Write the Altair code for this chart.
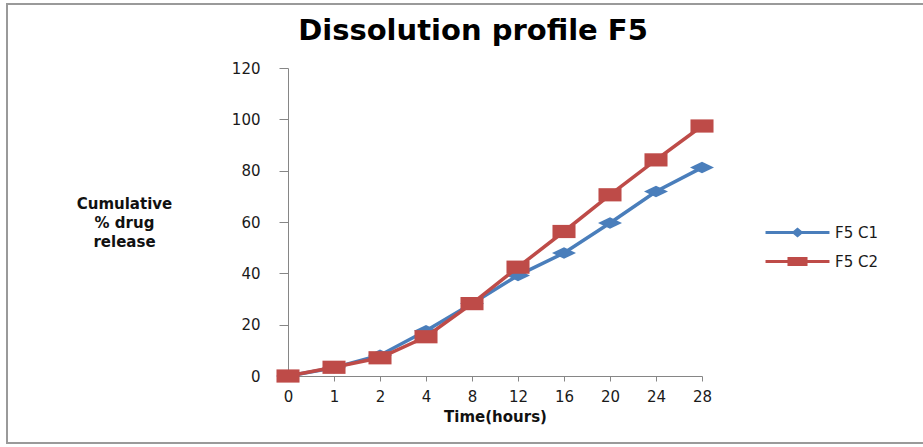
import altair as alt
import pandas as pd

# Sampling times (hours) and cumulative % drug release for the two batches
time_labels = ["0", "1", "2", "4", "8", "12", "16", "20", "24", "28"]
series_names = ["F5 C1", "F5 C2"]
release_c1 = [0, 3.2, 8.1, 17.6, 28.2, 39.2, 47.9, 59.6, 71.9, 81.2]
release_c2 = [0, 3.4, 7.1, 15.3, 28.2, 42.4, 56.3, 70.6, 84.2, 97.4]
y_ticks = [0, 20, 40, 60, 80, 100, 120]

colors = ["#4A7EBB", "#BE4B48"]

# Stretched marker outlines (custom SVG paths in the unit box)
diamond_path = "M0,-0.48L1,0L0,0.48L-1,0Z"
square_path = "M-0.96,-0.55L0.96,-0.55L0.96,0.55L-0.96,0.55Z"
marker_paths = [diamond_path, square_path]

# Legend glyphs: a short line with the series marker on it
legend_line = "M-5.33,-0.25L5.33,-0.25L5.33,0.25L-5.33,0.25Z"
legend_paths = [
    legend_line + " M0,-0.83L1,0L0,0.83L-1,0Z",
    legend_line + " M-1.67,-0.75L1.67,-0.75L1.67,0.75L-1.67,0.75Z",
]

FONT = "DejaVu Sans"
GREY = "#868686"

rows = []
for name, values in zip(series_names, [release_c1, release_c2]):
    for t, v in zip(time_labels, values):
        rows.append({"Time": t, "Release": v, "Series": name})
df = pd.DataFrame(rows)

x_enc = alt.X(
    "Time:O",
    sort=time_labels,
    scale=alt.Scale(type="point", domain=time_labels, padding=0),
    axis=alt.Axis(
        title="Time(hours)",
        labelAngle=0,
        labelFontSize=15,
        labelFont=FONT,
        labelColor="#1a1a1a",
        labelPadding=8,
        tickSize=5,
        tickColor=GREY,
        domainColor=GREY,
        titleFont=FONT,
        titleFontSize=15,
        titleFontWeight="bold",
        titleColor="#111111",
        titlePadding=5,
        grid=False,
    ),
)

y_enc = alt.Y(
    "Release:Q",
    scale=alt.Scale(domain=[0, 120], nice=False),
    axis=alt.Axis(
        values=y_ticks,
        title=["Cumulative", "% drug", "release"],
        titleAngle=0,
        titleAlign="center",
        titleBaseline="middle",
        titleX=-164,
        titleY=135,
        titleFont=FONT,
        titleFontSize=15,
        titleFontWeight="bold",
        titleColor="#111111",
        titleLineHeight=19,
        labelFontSize=15,
        labelFont=FONT,
        labelColor="#1a1a1a",
        labelPadding=19,
        tickSize=9,
        tickColor=GREY,
        domainColor=GREY,
        grid=False,
    ),
)

base = alt.Chart(df)

layers = []

# Outer frame around the whole figure
frame = alt.Chart(alt.Data(values=[{"k": 1}])).mark_rect(
    fillOpacity=0, stroke="#9a9a9a", strokeWidth=2
).encode(
    x=alt.value(-281), x2=alt.value(650), y=alt.value(-64), y2=alt.value(375)
)
layers.append(frame)

for name, col, path in zip(series_names, colors, marker_paths):
    sub = base.transform_filter(alt.datum.Series == name)
    layers.append(
        sub.mark_line(color=col, strokeWidth=3.5).encode(x=x_enc, y=y_enc)
    )
    layers.append(
        sub.mark_point(filled=True, opacity=1, color=col, shape=path, size=576).encode(
            x=x_enc, y=y_enc
        )
    )

# Legend-only layer: no rows drawn, the legend comes from the fixed domains
legend_layer = base.transform_filter("false").mark_point(filled=True, opacity=1).encode(
    x=x_enc,
    y=y_enc,
    color=alt.Color(
        "Series:N",
        scale=alt.Scale(domain=series_names, range=colors),
        legend=alt.Legend(
            orient="none",
            legendX=502,
            legendY=157,
            title=None,
            symbolSize=144,
            symbolStrokeWidth=0,
            labelOffset=30,
            labelFontSize=15,
            labelFont=FONT,
            labelColor="#1a1a1a",
            padding=0,
            rowPadding=13,
        ),
    ),
    shape=alt.Shape(
        "Series:N",
        scale=alt.Scale(domain=series_names, range=legend_paths),
    ),
)
layers.append(legend_layer)

chart = alt.layer(*layers).properties(
    width=414,
    height=308,
    autosize=alt.AutoSizeParams(type="none"),
    padding={"left": 288, "top": 68, "right": 221, "bottom": 71},
    title=alt.Title(
        "Dissolution profile F5",
        font=FONT,
        fontSize=29,
        fontWeight="bold",
        color="#000000",
        anchor="middle",
        dx=-22,
        dy=26,
        baseline="alphabetic",
        offset=-40,
    ),
).configure(background="white", view=alt.ViewConfig(stroke=None))

chart.save("out.html", embed_options={"renderer": "svg", "actions": False})
